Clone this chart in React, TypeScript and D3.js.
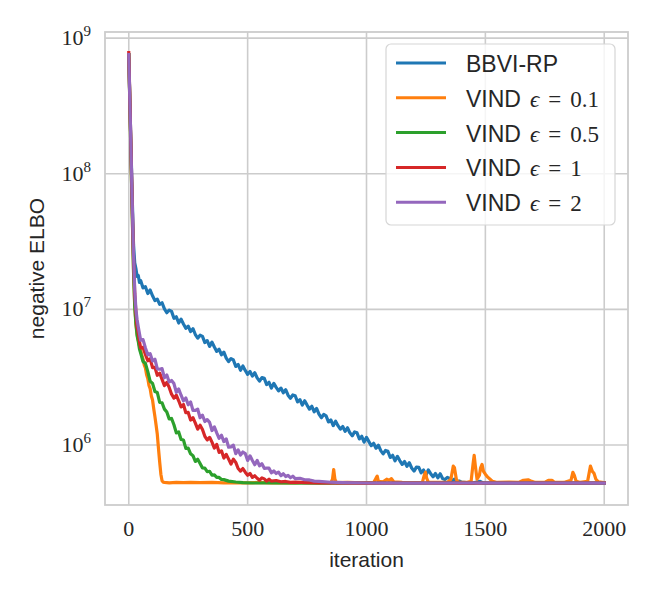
import React from "react";
import * as d3 from "d3";

type Pt = [number, number];

const xTicks = [0, 500, 1000, 1500, 2000];
const yTickExps = [6, 7, 8, 9];
const seriesNames = ["BBVI-RP", "VIND", "VIND", "VIND", "VIND"];
const epsLabels = ["", "0.1", "0.5", "1", "2"];
const colors = ["#1f77b4", "#ff7f0e", "#2ca02c", "#d62728", "#9467bd"];

const bbviRP: Pt[] = [
  [0, 7.55e8], [5, 3.2e8], [10, 1.4e8], [15, 6.2e7], [20, 3.0e7], [25, 2.2e7], [30, 2.0e7], [35, 1.75e7],
  [40, 1.78e7], [45, 1.58e7], [50, 1.63e7], [60, 1.44e7], [70, 1.47e7], [80, 1.31e7], [90, 1.39e7], [100, 1.26e7],
  [110, 1.16e7], [120, 1.19e7], [130, 1.09e7], [140, 1.12e7], [150, 1.01e7], [160, 9.45e6], [170, 9.89e6], [180, 9.67e6],
  [190, 8.59e6], [200, 8.82e6], [210, 7.94e6], [220, 8.48e6], [230, 7.81e6], [240, 7.25e6], [250, 7.52e6], [260, 6.87e6],
  [270, 7.21e6], [280, 6.53e6], [290, 6.14e6], [300, 6.45e6], [310, 6.33e6], [320, 5.69e6], [330, 5.89e6], [340, 5.34e6],
  [350, 5.74e6], [360, 5.28e6], [370, 4.9e6], [380, 5.08e6], [390, 4.63e6], [400, 4.84e6], [410, 4.38e6], [420, 4.12e6],
  [430, 4.34e6], [440, 4.24e6], [450, 3.8e6], [460, 3.93e6], [470, 3.56e6], [480, 3.83e6], [490, 3.55e6], [500, 3.32e6],
  [510, 3.49e6], [520, 3.22e6], [530, 3.41e6], [540, 3.13e6], [550, 2.96e6], [560, 3.14e6], [570, 3.1e6], [580, 2.79e6],
  [590, 2.9e6], [600, 2.63e6], [610, 2.85e6], [620, 2.66e6], [630, 2.51e6], [640, 2.63e6], [650, 2.43e6], [660, 2.56e6],
  [670, 2.33e6], [680, 2.21e6], [690, 2.34e6], [700, 2.31e6], [710, 2.08e6], [720, 2.16e6], [730, 1.97e6], [740, 2.12e6],
  [750, 1.97e6], [760, 1.84e6], [770, 1.93e6], [780, 1.76e6], [790, 1.86e6], [800, 1.69e6], [810, 1.59e6], [820, 1.68e6],
  [830, 1.64e6], [840, 1.48e6], [850, 1.53e6], [860, 1.39e6], [870, 1.5e6], [880, 1.39e6], [890, 1.31e6], [900, 1.37e6],
  [910, 1.26e6], [920, 1.34e6], [930, 1.23e6], [940, 1.17e6], [950, 1.25e6], [960, 1.23e6], [970, 1.11e6], [980, 1.16e6],
  [990, 1.05e6], [1000, 1.14e6], [1010, 1.06e6], [1020, 9.89e5], [1030, 1.03e6], [1040, 9.48e5], [1050, 9.98e5], [1060, 9.09e5],
  [1070, 8.61e5], [1080, 9.12e5], [1090, 8.99e5], [1100, 8.1e5], [1110, 8.4e5], [1120, 7.65e5], [1130, 8.26e5], [1140, 7.68e5],
  [1150, 7.2e5], [1160, 7.57e5], [1170, 6.98e5], [1180, 7.4e5], [1190, 6.77e5], [1200, 6.43e5], [1210, 6.88e5], [1220, 6.85e5],
  [1230, 6.24e5], [1240, 6.54e5], [1250, 6.0e5], [1260, 6.55e5], [1270, 6.15e5], [1280, 5.83e5], [1290, 6.17e5], [1300, 5.73e5],
  [1310, 6.14e5], [1320, 5.67e5], [1330, 5.56e5], [1340, 5.78e5], [1350, 5.67e5], [1360, 5.44e5], [1370, 5.61e5], [1380, 5.33e5],
  [1390, 5.43e5], [1400, 5.33e5], [1420, 5.28e5], [1450, 5.26e5], [1478, 5.4e5], [1490, 5.26e5], [1550, 5.24e5], [1600, 5.25e5],
  [1700, 5.24e5], [1800, 5.25e5], [1900, 5.24e5], [2000, 5.24e5],
];

const vind01: Pt[] = [
  [0, 7.55e8], [5, 3.0e8], [10, 1.2e8], [15, 4.8e7], [20, 2.0e7], [25, 1.1e7], [30, 8.0e6], [35, 6.6e6],
  [40, 5.9e6], [45, 5.4e6], [50, 5.0e6], [55, 4.6e6], [60, 4.3e6], [65, 3.9e6], [70, 3.7e6], [75, 3.3e6],
  [80, 3.1e6], [85, 2.75e6], [90, 2.6e6], [95, 2.3e6], [100, 2.15e6], [105, 1.85e6], [110, 1.62e6], [115, 1.4e6],
  [120, 1.2e6], [125, 9.4e5], [130, 7.5e5], [135, 6.1e5], [140, 5.45e5], [145, 5.32e5], [150, 5.3e5], [170, 5.27e5],
  [200, 5.3e5], [230, 5.28e5], [260, 5.31e5], [300, 5.28e5], [350, 5.3e5], [400, 5.27e5], [450, 5.29e5], [500, 5.27e5],
  [550, 5.3e5], [600, 5.27e5], [650, 5.29e5], [700, 5.27e5], [750, 5.3e5], [800, 5.28e5], [850, 5.28e5], [857, 5.6e5],
  [862, 6.6e5], [867, 5.6e5], [873, 5.28e5], [920, 5.3e5], [980, 5.27e5], [1030, 5.3e5], [1040, 5.7e5], [1045, 5.9e5],
  [1050, 5.4e5], [1070, 5.35e5], [1085, 5.6e5], [1095, 5.5e5], [1105, 5.65e5], [1115, 5.35e5], [1150, 5.3e5], [1200, 5.28e5],
  [1235, 5.3e5], [1243, 6.0e5], [1248, 6.3e5], [1253, 5.7e5], [1260, 5.32e5], [1300, 5.3e5], [1340, 5.3e5], [1355, 5.6e5],
  [1365, 7.0e5], [1370, 6.8e5], [1378, 5.6e5], [1385, 5.3e5], [1420, 5.3e5], [1440, 5.4e5], [1448, 7.2e5], [1453, 8.4e5],
  [1458, 7.0e5], [1465, 5.6e5], [1475, 6.0e5], [1480, 6.8e5], [1486, 7.2e5], [1492, 6.4e5], [1500, 6.1e5], [1510, 5.8e5],
  [1520, 5.6e5], [1530, 5.4e5], [1550, 5.3e5], [1600, 5.32e5], [1640, 5.3e5], [1660, 5.5e5], [1680, 5.55e5], [1695, 5.4e5],
  [1710, 5.3e5], [1750, 5.3e5], [1765, 5.5e5], [1780, 5.5e5], [1790, 5.32e5], [1830, 5.3e5], [1860, 5.5e5], [1868, 6.3e5],
  [1874, 6.0e5], [1882, 5.4e5], [1900, 5.3e5], [1930, 5.4e5], [1942, 7.0e5], [1950, 6.4e5], [1957, 6.2e5], [1965, 5.6e5],
  [1975, 5.35e5], [2000, 5.28e5],
];

const vind05: Pt[] = [
  [0, 7.55e8], [5, 3.0e8], [10, 1.2e8], [15, 4.6e7], [20, 1.9e7], [25, 1.05e7], [30, 7.8e6], [35, 6.4e6],
  [40, 5.8e6], [45, 5.1e6], [50, 4.77e6], [60, 4.13e6], [70, 4.0e6], [80, 3.48e6], [90, 2.95e6], [100, 2.85e6],
  [110, 2.48e6], [120, 2.44e6], [130, 2.06e6], [140, 2.05e6], [150, 1.84e6], [160, 1.75e6], [170, 1.56e6], [180, 1.57e6],
  [190, 1.41e6], [200, 1.23e6], [210, 1.25e6], [220, 1.1e6], [230, 1.09e6], [240, 9.45e5], [250, 9.49e5], [260, 8.62e5],
  [270, 8.35e5], [280, 7.57e5], [290, 7.85e5], [300, 7.31e5], [310, 6.77e5], [320, 6.75e5], [330, 6.36e5], [340, 6.41e5],
  [350, 5.99e5], [360, 6.03e5], [370, 5.78e5], [380, 5.77e5], [390, 5.57e5], [400, 5.56e5], [420, 5.42e5], [450, 5.34e5],
  [480, 5.28e5], [520, 5.25e5], [600, 5.26e5], [800, 5.24e5], [1000, 5.25e5], [1200, 5.24e5], [1400, 5.25e5], [1600, 5.24e5],
  [1800, 5.25e5], [2000, 5.24e5],
];

const vind1: Pt[] = [
  [0, 7.82e8], [5, 3.3e8], [10, 1.35e8], [15, 5.5e7], [20, 2.4e7], [25, 1.3e7], [30, 9.5e6], [35, 7.4e6],
  [40, 6.7e6], [45, 5.8e6], [50, 5.2e6], [60, 5.25e6], [70, 4.66e6], [80, 4.18e6], [90, 4.32e6], [100, 3.72e6],
  [110, 3.74e6], [120, 3.27e6], [130, 3.39e6], [140, 3.05e6], [150, 2.74e6], [160, 2.9e6], [170, 2.66e6], [180, 2.37e6],
  [190, 2.22e6], [200, 2.33e6], [210, 2.12e6], [220, 1.91e6], [230, 1.99e6], [240, 1.73e6], [250, 1.74e6], [260, 1.53e6],
  [270, 1.59e6], [280, 1.45e6], [290, 1.31e6], [300, 1.4e6], [310, 1.3e6], [320, 1.16e6], [330, 1.09e6], [340, 1.14e6],
  [350, 1.05e6], [360, 9.5e5], [370, 1.01e6], [380, 8.83e5], [390, 9.06e5], [400, 8.02e5], [410, 8.53e5], [420, 7.87e5],
  [430, 7.24e5], [440, 7.88e5], [450, 7.45e5], [460, 6.72e5], [470, 6.43e5], [480, 6.71e5], [490, 6.31e5], [500, 5.98e5],
  [510, 6.18e5], [520, 5.78e5], [530, 5.94e5], [540, 5.69e5], [550, 5.51e5], [560, 5.73e5], [570, 5.63e5], [580, 5.42e5],
  [590, 5.61e5], [600, 5.42e5], [620, 5.48e5], [640, 5.36e5], [660, 5.39e5], [680, 5.31e5], [700, 5.33e5], [750, 5.28e5],
  [800, 5.26e5], [1000, 5.24e5], [1200, 5.25e5], [1400, 5.24e5], [1600, 5.25e5], [1800, 5.24e5], [2000, 5.25e5],
];

const vind2: Pt[] = [
  [0, 7.55e8], [5, 3.2e8], [10, 1.35e8], [15, 5.6e7], [20, 2.5e7], [25, 1.4e7], [30, 1.0e7], [35, 8.4e6],
  [40, 7.41e6], [50, 5.92e6], [60, 5.99e6], [70, 5.2e6], [80, 4.62e6], [90, 4.72e6], [100, 4.16e6], [110, 4.29e6],
  [120, 3.64e6], [130, 3.62e6], [140, 3.66e6], [150, 3.13e6], [160, 3.28e6], [170, 2.92e6], [180, 2.99e6], [190, 2.84e6],
  [200, 2.45e6], [210, 2.59e6], [220, 2.33e6], [230, 2.12e6], [240, 2.22e6], [250, 1.98e6], [260, 2.08e6], [270, 1.8e6],
  [280, 1.8e6], [290, 1.84e6], [300, 1.59e6], [310, 1.66e6], [320, 1.49e6], [330, 1.54e6], [340, 1.47e6], [350, 1.28e6],
  [360, 1.36e6], [370, 1.23e6], [380, 1.12e6], [390, 1.18e6], [400, 1.06e6], [410, 1.11e6], [420, 9.64e5], [430, 9.7e5],
  [440, 9.98e5], [450, 8.64e5], [460, 9.21e5], [470, 8.44e5], [480, 8.88e5], [490, 8.65e5], [500, 7.7e5], [510, 8.33e5],
  [520, 7.7e5], [530, 7.16e5], [540, 7.69e5], [550, 7.02e5], [560, 7.28e5], [570, 6.74e5], [580, 6.75e5], [590, 6.75e5],
  [600, 6.24e5], [610, 6.45e5], [620, 6.17e5], [630, 6.32e5], [640, 5.94e5], [650, 6.14e5], [660, 5.86e5], [670, 5.98e5],
  [680, 5.74e5], [690, 5.89e5], [700, 5.65e5], [720, 5.69e5], [740, 5.55e5], [760, 5.53e5], [780, 5.42e5], [800, 5.4e5],
  [850, 5.32e5], [900, 5.29e5], [1000, 5.25e5], [1200, 5.24e5], [1400, 5.25e5], [1600, 5.24e5], [1800, 5.25e5], [2000, 5.24e5],
];

const allSeries = [bbviRP, vind01, vind05, vind1, vind2];

const W = 660, H = 600;
const L = 105, R = 628, T = 32, B = 505;

export default function App() {
  const x = d3.scaleLinear().domain([-100, 2100]).range([L, R]);
  const y = d3.scaleLog().domain([Math.pow(10, 5.558), Math.pow(10, 9.045)]).range([B, T]);
  const line = d3.line<Pt>().x((d) => x(d[0])).y((d) => y(d[1]));
  const serif = "'Liberation Serif', 'DejaVu Serif', serif";
  const sans = "'Liberation Sans', Arial, sans-serif";
  const legX = 386, legY = 44, legW = 229, legH = 181;
  return (
    <svg width={W} height={H} viewBox={`0 0 ${W} ${H}`} style={{ display: "block", position: "absolute", left: 0, top: 0 }}>
      <rect x={0} y={0} width={W} height={H} fill="#ffffff" />
      <defs>
        <clipPath id="clip">
          <rect x={L} y={T} width={R - L} height={B - T} />
        </clipPath>
      </defs>
      {xTicks.map((t) => (
        <line key={"gx" + t} x1={x(t)} x2={x(t)} y1={T} y2={B} stroke="#cccccc" strokeWidth={1.6} />
      ))}
      {yTickExps.map((e) => (
        <line key={"gy" + e} x1={L} x2={R} y1={y(Math.pow(10, e))} y2={y(Math.pow(10, e))} stroke="#cccccc" strokeWidth={1.6} />
      ))}
      <g clipPath="url(#clip)">
        {allSeries.map((s, i) => (
          <path key={"s" + i} d={line(s) || ""} fill="none" stroke={colors[i]} strokeWidth={3.2} strokeLinejoin="round" strokeLinecap="square" />
        ))}
      </g>
      <rect x={L} y={T} width={R - L} height={B - T} fill="none" stroke="#cccccc" strokeWidth={1.8} />
      {xTicks.map((t) => (
        <text key={"tx" + t} x={x(t)} y={536} textAnchor="middle" fontFamily={serif} fontSize={22} fill="#262626">
          {t}
        </text>
      ))}
      {yTickExps.map((e) => (
        <text key={"ty" + e} x={91} y={y(Math.pow(10, e)) + 7} textAnchor="end" fontFamily={serif} fontSize={22} fill="#262626">
          10
          <tspan fontSize={15} dy={-9}>{e}</tspan>
        </text>
      ))}
      <text x={(L + R) / 2} y={567} textAnchor="middle" fontFamily={sans} fontSize={21} fill="#262626">
        iteration
      </text>
      <text transform={`translate(44, ${(T + B) / 2}) rotate(-90)`} textAnchor="middle" fontFamily={sans} fontSize={21} fill="#262626">
        negative ELBO
      </text>
      <rect x={legX} y={legY} width={legW} height={legH} rx={5} ry={5} fill="#ffffff" fillOpacity={0.8} stroke="#d6d6d6" strokeWidth={1.2} />
      {seriesNames.map((n, i) => {
        const ly = 63 + i * 34.8;
        return (
          <g key={"lg" + i}>
            <line x1={396} x2={446} y1={ly} y2={ly} stroke={colors[i]} strokeWidth={3} />
            <text x={466} y={ly + 9} fontFamily={sans} fontSize={23} fill="#262626">
              {n}
              {epsLabels[i] !== "" && (
                <>
                  <tspan fontFamily={serif} fontStyle="italic" dx={9}>ϵ</tspan>
                  <tspan fontFamily={serif} dx={9}>=</tspan>
                  <tspan fontFamily={serif} dx={9}>{epsLabels[i]}</tspan>
                </>
              )}
            </text>
          </g>
        );
      })}
    </svg>
  );
}
